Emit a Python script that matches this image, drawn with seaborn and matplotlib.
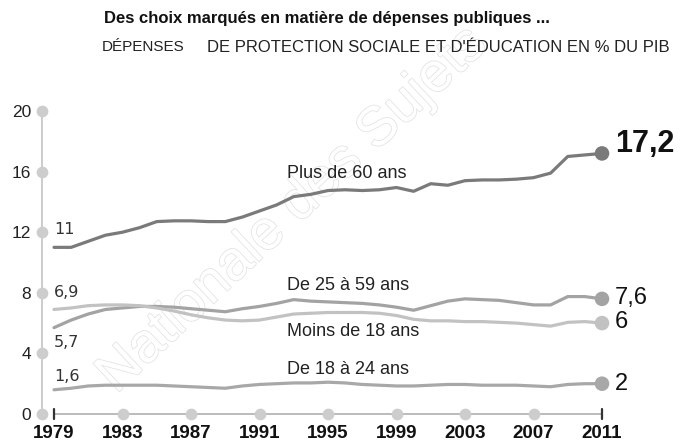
import pandas as pd
import matplotlib
matplotlib.use('Agg')
import matplotlib.pyplot as plt
import matplotlib.patheffects as pe
import seaborn as sns

# Données (% du PIB)
annees = list(range(1979, 2012))
plus_60 = [11.0, 11.0, 11.4, 11.8, 12.0, 12.3, 12.7, 12.75, 12.75, 12.7, 12.7,
           13.0, 13.4, 13.8, 14.35, 14.5, 14.75, 14.8, 14.75, 14.8, 14.95, 14.7,
           15.2, 15.1, 15.4, 15.45, 15.45, 15.5, 15.6, 15.9, 17.0, 17.1, 17.2]
de_25_59 = [5.7, 6.2, 6.6, 6.9, 7.0, 7.1, 7.1, 7.05, 6.95, 6.85, 6.75,
            6.95, 7.1, 7.3, 7.55, 7.45, 7.4, 7.35, 7.3, 7.2, 7.05, 6.85,
            7.15, 7.45, 7.6, 7.55, 7.5, 7.35, 7.2, 7.2, 7.75, 7.75, 7.6]
moins_18 = [6.9, 7.0, 7.15, 7.2, 7.2, 7.15, 7.0, 6.8, 6.55, 6.35, 6.2,
            6.15, 6.2, 6.4, 6.6, 6.65, 6.7, 6.7, 6.7, 6.65, 6.5, 6.25,
            6.15, 6.15, 6.1, 6.1, 6.05, 6.0, 5.9, 5.8, 6.05, 6.1, 6.0]
de_18_24 = [1.6, 1.7, 1.85, 1.9, 1.9, 1.9, 1.9, 1.85, 1.8, 1.75, 1.7,
            1.85, 1.95, 2.0, 2.05, 2.05, 2.1, 2.05, 1.95, 1.9, 1.85, 1.85,
            1.9, 1.95, 1.95, 1.9, 1.9, 1.9, 1.85, 1.8, 1.95, 2.0, 2.0]

series = ['Plus de 60 ans', 'De 25 à 59 ans', 'Moins de 18 ans', 'De 18 à 24 ans']
etiquettes_debut = ['11', '5,7', '6,9', '1,6']
etiquettes_fin = ['17,2', '7,6', '6', '2']
ticks_x = [1979, 1983, 1987, 1991, 1995, 1999, 2003, 2007, 2011]
ticks_y = [0, 4, 8, 12, 16, 20]

couleurs = {'Plus de 60 ans': '#7a7a7a', 'De 25 à 59 ans': '#a3a3a3',
            'Moins de 18 ans': '#c2c2c2', 'De 18 à 24 ans': '#a8a8a8'}

df = pd.DataFrame({'Annee': annees, series[0]: plus_60, series[1]: de_25_59,
                   series[2]: moins_18, series[3]: de_18_24})
df = df.melt(id_vars='Annee', var_name='Serie', value_name='Valeur')

sns.set_style("white")
plt.rcParams['font.family'] = ['Liberation Sans', 'DejaVu Sans']

fig = plt.figure(figsize=(6.81, 4.48), dpi=100)
ax = fig.add_axes([42 / 681, 34 / 448, 560 / 681, 303 / 448])
x0 = 1979 - 12 / 17.125
ax.set_xlim(x0, 2011)
ax.set_ylim(0, 20)

# filigrane (lettres détourées, très pâles)
ax.text(0.43, 0.53, 'Nationale des Sujets', transform=fig.transFigure,
        fontsize=40, color='white', rotation=43, ha='center', va='center',
        zorder=0, clip_on=False,
        path_effects=[pe.withStroke(linewidth=1.1, foreground='#e2e2e2')])

# axes dessinés à la main
ax.plot([x0, x0], [0, 20], color='#c8c8c8', lw=1.3, clip_on=False, zorder=1)
ax.scatter([x0] * len(ticks_y), ticks_y, s=55, color='#cdcdcd', clip_on=False, zorder=2)
ax.plot([1979, 2011], [0, 0], color='#b5b5b5', lw=1.3, clip_on=False, zorder=1)
ax.scatter(ticks_x[1:-1], [0] * 7, s=55, color='#cdcdcd', clip_on=False, zorder=2)
ax.plot([1979, 1979], [-0.3, 0.3], color='#333333', lw=1.6, clip_on=False)
ax.plot([2011, 2011], [-0.3, 0.3], color='#333333', lw=1.6, clip_on=False)

sns.lineplot(data=df, x='Annee', y='Valeur', hue='Serie', palette=couleurs,
             linewidth=2.3, legend=False, ax=ax, zorder=3)
fin = df[df['Annee'] == 2011]
sns.scatterplot(data=fin, x='Annee', y='Valeur', hue='Serie', palette=couleurs,
                s=110, edgecolor='none', legend=False, ax=ax, zorder=4, clip_on=False)

for s in ax.spines.values():
    s.set_visible(False)
ax.set_xlabel('')
ax.set_ylabel('')
ax.set_yticks(ticks_y)
ax.set_yticklabels([str(v) for v in ticks_y])
ax.set_xticks(ticks_x)
ax.set_xticklabels([str(v) for v in ticks_x], fontweight='bold', fontsize=13.5)
ax.tick_params(axis='y', length=0, pad=8, labelsize=12.5, labelcolor='#222222')
ax.tick_params(axis='x', length=0, pad=8, labelcolor='#111111')

# étiquettes de début
pos_debut = [12.15, 4.75, 8.05, 2.5]
for txt, y in zip(etiquettes_debut, pos_debut):
    ax.text(1979, y, txt, ha='left', va='center', fontsize=11.5,
            family='DejaVu Sans', color='#333333', zorder=5)

# étiquettes de fin
pos_fin = [17.8, 7.65, 6.05, 2.0]
for i, (txt, y) in enumerate(zip(etiquettes_fin, pos_fin)):
    ax.text(2011.75, y, txt, ha='left', va='center', clip_on=False,
            fontsize=22 if i == 0 else 17, fontweight='bold' if i == 0 else 'normal',
            color='#111111', zorder=5)

# noms des séries
pos_noms = [15.9, 8.5, 5.47, 2.96]
for nom, y in zip(series, pos_noms):
    ax.text(1992.6, y, nom, ha='left', va='center', fontsize=13,
            color='#222222', zorder=5)

fig.text(104 / 681, 1 - 18 / 448, 'Des choix marqués en matière de dépenses publiques ...',
         ha='left', va='center', fontsize=12, fontweight='bold', color='#111111')
fig.text(102 / 681, 1 - 47 / 448, 'DÉPENSES', ha='left', va='center', fontsize=11,
         color='#222222')
fig.text(670 / 681, 1 - 47 / 448, "DE PROTECTION SOCIALE ET D'ÉDUCATION EN % DU PIB",
         ha='right', va='center', fontsize=12, color='#222222')

plt.savefig('out.png', dpi=100)
plt.close()
